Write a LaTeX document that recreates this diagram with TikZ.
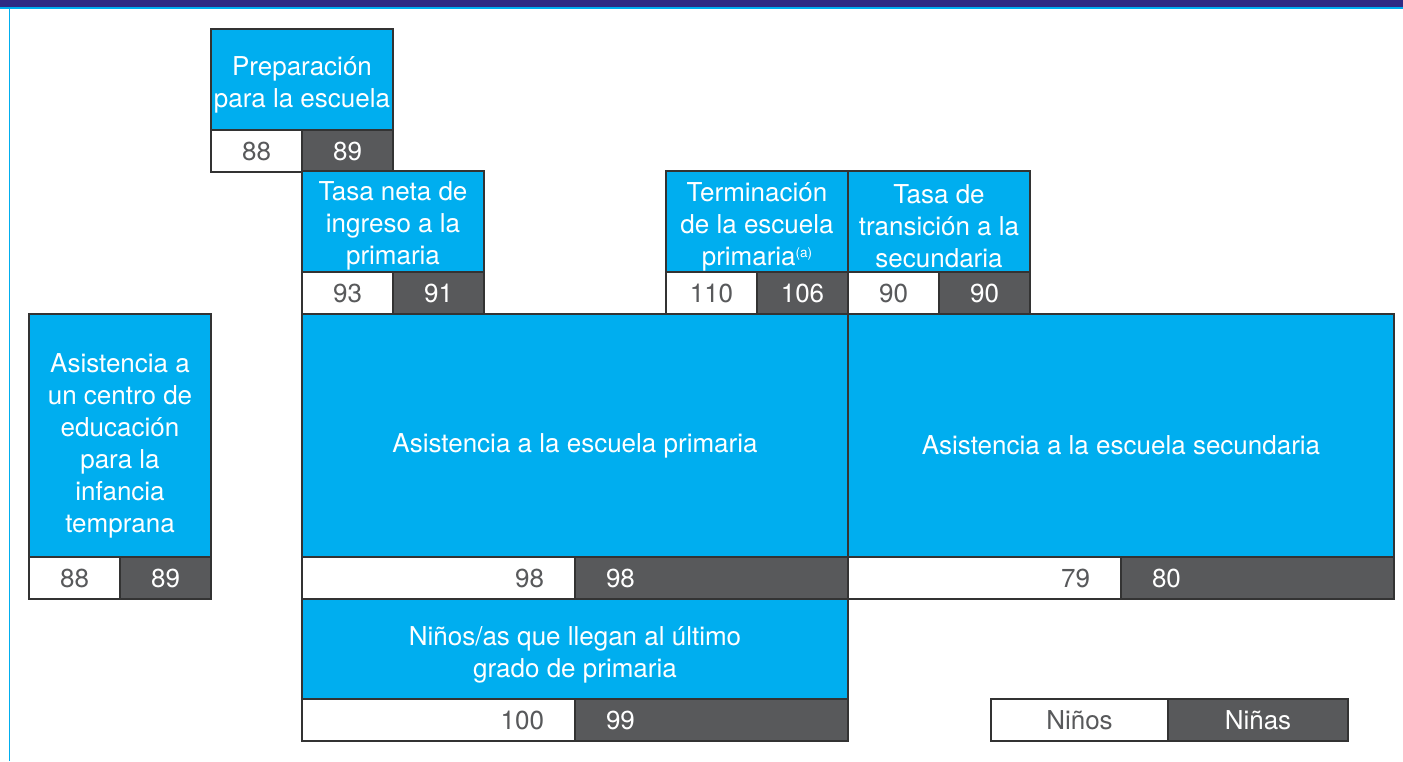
\documentclass[tikz,border=0pt]{standalone}
\usepackage{fontspec}
\setmainfont{TeX Gyre Heros}
\definecolor{cblue}{HTML}{00AEEF}
\definecolor{cgrey}{HTML}{58595B}
\definecolor{cnavy}{HTML}{2E2A84}
\definecolor{cedge}{HTML}{333333}
\newcommand{\lblfont}{\fontsize{26}{32}\selectfont}
\tikzset{
  cellbase/.style={draw=cedge, line width=1.1pt, inner sep=0pt, outer sep=0pt, anchor=north west, font=\lblfont},
  bluebox/.style={cellbase, fill=cblue},
  bluetext/.style={inner sep=0pt, text=white, align=center, font=\lblfont},
  boycell/.style={cellbase, fill=white, text=cgrey, minimum height=42, align=center},
  girlcell/.style={cellbase, fill=cgrey, text=white, minimum height=42, align=center},
  boywide/.style={boycell, text width=273-31-31, inner xsep=31pt, align=right},
  girlwide/.style={girlcell, text width=273-31-31, inner xsep=31pt, align=left},
}
\begin{document}
\begin{tikzpicture}[x=1pt,y=-1pt]
\useasboundingbox (0,0) rectangle (1403,761);
% frame
\fill[cnavy] (0,0) rectangle (1403,7);
\fill[cblue] (0,7) rectangle (1403,8.6);
\fill[cblue] (8.6,8) rectangle (10.4,761);

% Preparacion
\node[bluebox, minimum width=182, minimum height=101] (prep) at (211,29) {};
\node[bluetext] (prept) at ([yshift=-5pt]prep.center) {Preparación\\para la escuela};
\node[boycell, minimum width=91] (prepb) at (211,130) {88};
\node[girlcell, minimum width=91] (prepg) at (302,130) {89};

% Tasa neta de ingreso
\node[bluebox, minimum width=182, minimum height=101] (ingreso) at (302,171) {};
\node[bluetext] (ingresot) at ([yshift=-4pt]ingreso.center) {Tasa neta de\\ingreso a la\\primaria};
\node[boycell, minimum width=91] (ingresob) at (302,272) {93};
\node[girlcell, minimum width=91] (ingresog) at (393,272) {91};

% Terminacion
\node[bluebox, minimum width=182, minimum height=101] (term) at (666,171) {};
\node[bluetext] (termt) at ([yshift=-5pt]term.center) {Terminación\\de la escuela\\primaria{\fontsize{13.5}{13.5}\selectfont\raisebox{1.05ex}{(a)}}};
\node[boycell, minimum width=91] (termb) at (666,272) {110};
\node[girlcell, minimum width=91] (termg) at (757,272) {106};

% Transicion
\node[bluebox, minimum width=182, minimum height=101] (trans) at (848,171) {};
\node[bluetext] (transt) at ([yshift=-5pt]trans.center) {Tasa de\\transición a la\\secundaria};
\node[boycell, minimum width=91] (transb) at (848,272) {90};
\node[girlcell, minimum width=91] (transg) at (939,272) {90};

% Centro infancia temprana
\node[bluebox, minimum width=182, minimum height=243] (centro) at (29,314) {};
\node[bluetext] (centrot) at ([yshift=-10pt]centro.center) {Asistencia a\\un centro de\\educación\\para la\\infancia\\temprana};
\node[boycell, minimum width=91] (centrob) at (29,557) {88};
\node[girlcell, minimum width=91] (centrog) at (120,557) {89};

% Primaria
\node[bluebox, minimum width=546, minimum height=243] (prim) at (302,314) {};
\node[bluetext] (primt) at ([yshift=-10pt]prim.center) {Asistencia a la escuela primaria};
\node[boywide] (primb) at (302,557) {98};
\node[girlwide] (primg) at (575,557) {98};

% Secundaria
\node[bluebox, minimum width=546, minimum height=243] (sec) at (848,314) {};
\node[bluetext] (sect) at ([yshift=-10pt]sec.center) {Asistencia a la escuela secundaria};
\node[boywide] (secb) at (848,557) {79};
\node[girlwide] (secg) at (1121,557) {80};

% Ultimo grado
\node[bluebox, minimum width=546, minimum height=100] (ultimo) at (302,599) {};
\node[bluetext] (ultimot) at ([yshift=-6pt]ultimo.center) {Niños/as que llegan al último\\grado de primaria};
\node[boywide] (ultimob) at (302,699) {100};
\node[girlwide] (ultimog) at (575,699) {99};

% Legend
\node[boycell, minimum width=177] (legb) at (991,699) {Niños};
\node[girlcell, minimum width=180] (legg) at (1168,699) {Niñas};
\end{tikzpicture}
\end{document}
